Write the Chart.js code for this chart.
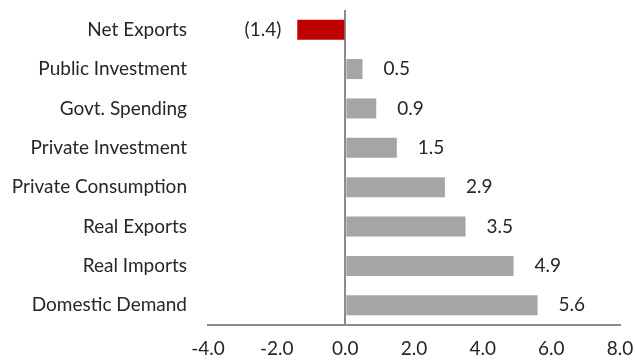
<!DOCTYPE html>
<html>
<head>
<meta charset="utf-8">
<script src="https://cdn.jsdelivr.net/npm/chart.js@4/dist/chart.umd.min.js"></script>
<style>
  html, body { margin: 0; padding: 0; background: #fff; }
  #wrap { width: 635px; height: 363px; }
</style>
</head>
<body>
<div id="wrap"><canvas id="myChart"></canvas></div>
<script>
var categories = ['Net Exports', 'Public Investment', 'Govt. Spending', 'Private Investment',
                  'Private Consumption', 'Real Exports', 'Real Imports', 'Domestic Demand'];
var growth = [-1.4, 0.5, 0.9, 1.5, 2.9, 3.5, 4.9, 5.6];
var xTicks = [-4, -2, 0, 2, 4, 6, 8];

// labels next to bar ends, negatives in brackets
var barLabels = {
    id: 'barLabels',
    afterDatasetsDraw: function(chart) {
        var ctx = chart.ctx;
        var meta = chart.getDatasetMeta(0);
        ctx.save();
        ctx.font = '19px Lato';
        ctx.fillStyle = '#262626';
        ctx.textBaseline = 'middle';
        meta.data.forEach(function(bar, i) {
            var v = growth[i];
            if (v < 0) {
                ctx.textAlign = 'right';
                ctx.fillText('(' + Math.abs(v).toFixed(1) + ')', bar.x - 16, bar.y);
            } else {
                ctx.textAlign = 'left';
                ctx.fillText(v.toFixed(1), bar.x + 21, bar.y);
            }
        });
        ctx.restore();
    }
};

function makeGraph(cats, vals) {
var ctx = document.getElementById('myChart').getContext('2d');
var chart = new Chart(ctx, {
    type: 'bar',
    data: {
        labels: cats,
        datasets: [{
            data: vals,
            backgroundColor: vals.map(function(v) { return v < 0 ? '#C00000' : '#A5A5A5'; }),
            barPercentage: 0.51,
            categoryPercentage: 1.0
        }]
    },
    options: {
        indexAxis: 'y',
        responsive: true,
        maintainAspectRatio: false,
        animation: false,
        layout: { padding: { top: 10, right: 0, left: 0, bottom: 0 } },
        plugins: { legend: { display: false }, tooltip: { enabled: false } },
        scales: {
            x: {
                min: -4, max: 8,
                afterBuildTicks: function(axis) {
                    axis.ticks = xTicks.map(function(v) { return { value: v }; });
                },
                afterFit: function(axis) {
                    axis.height = 38;
                    axis.paddingLeft = 0;
                    axis.paddingRight = 15;
                },
                ticks: {
                    font: { family: 'Lato', size: 19 },
                    color: '#262626',
                    padding: 12,
                    maxRotation: 0,
                    callback: function(v) { return Number(v).toFixed(1); }
                },
                grid: {
                    drawTicks: false,
                    color: function(c) { return c.tick && c.tick.value === 0 ? '#8C8C8C' : 'rgba(0,0,0,0)'; },
                    lineWidth: 2
                },
                border: { display: true, color: '#8C8C8C', width: 2 }
            },
            y: {
                afterFit: function(axis) {
                    axis.width = 208;
                    axis.paddingTop = 0;
                    axis.paddingBottom = 0;
                },
                ticks: {
                    font: { family: 'Lato', size: 19 },
                    color: '#262626',
                    padding: 21
                },
                grid: { display: false, drawTicks: false },
                border: { display: false }
            }
        }
    },
    plugins: [barLabels]
});
return chart;
}

makeGraph(categories, growth);
</script>
</body>
</html>
